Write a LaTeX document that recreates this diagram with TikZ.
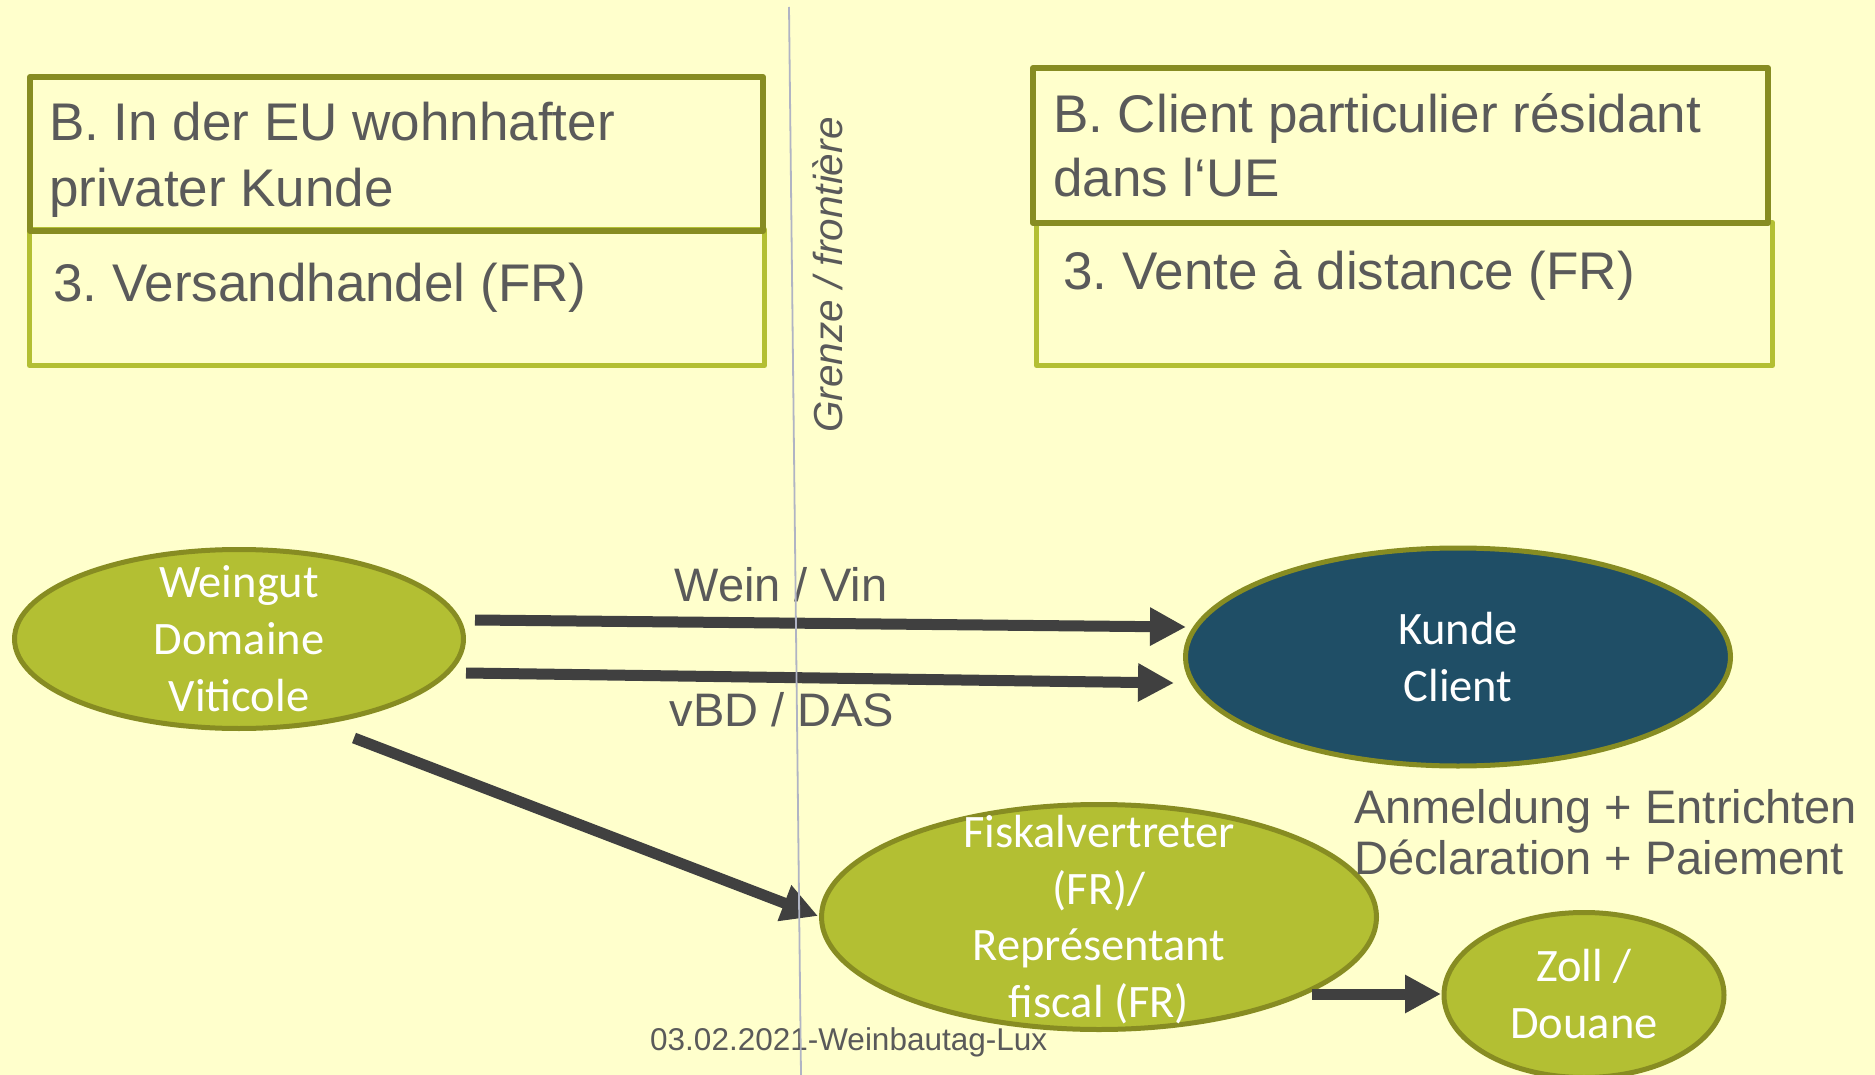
\documentclass[tikz,border=0pt]{standalone}
\usepackage{fontspec}
\setmainfont{Liberation Sans}
\newfontfamily\calfont{Carlito}
\usetikzlibrary{shapes.geometric,arrows.meta,calc}
\definecolor{bgc}{HTML}{FFFFCC}
\definecolor{olivec}{HTML}{878C22}
\definecolor{limec}{HTML}{B3BF33}
\definecolor{tealc}{HTML}{1F4E66}
\definecolor{arrc}{HTML}{404040}
\definecolor{txtc}{HTML}{5A5A5A}
\definecolor{glinec}{HTML}{B0B4C4}
\frenchspacing
\begin{document}
\begin{tikzpicture}[x=1pt,y=-1pt,
  boxtxt/.style={anchor=base west,inner sep=0pt,font=\fontsize{53}{60}\selectfont,text=txtc},
  lbl/.style={inner sep=0pt,font=\fontsize{47}{52}\selectfont,text=txtc},
  elltxt/.style={anchor=base,inner sep=0pt,font=\calfont\fontsize{46.5}{57}\selectfont,text=white},
  ell/.style={ellipse,draw=olivec,line width=5pt,inner sep=0pt,fill=limec},
  headbox/.style={rectangle,draw=olivec,line width=6pt,inner sep=0pt,line join=round},
  lowbox/.style={rectangle,draw=limec,line width=5pt,inner sep=0pt,line join=round},
  arr/.style={draw=arrc,line width=11pt,-{Triangle[length=36pt,width=36pt]}},
]
\useasboundingbox (0,0) rectangle (1875,1075);
\fill[bgc] (0,0) rectangle (1875,1075);

% boxes
\node[lowbox,minimum width=735pt,minimum height=136pt] (lb) at (397,297.5) {};
\node[headbox,minimum width=733pt,minimum height=154pt] (lh) at (396.5,154) {};
\node[lowbox,minimum width=736pt,minimum height=143pt] (rb) at (1404.5,294) {};
\node[headbox,minimum width=735pt,minimum height=155pt] (rh) at (1400.5,145.5) {};

\node[boxtxt] (lh1) at (49,141) {B. In der EU wohnhafter};
\node[boxtxt] (lh2) at (49,207) {privater Kunde};
\node[boxtxt] (lb1) at (53,302) {3. Versandhandel (FR)};
\node[boxtxt] (rh1) at (1053,133) {B. Client particulier résidant};
\node[boxtxt] (rh2) at (1053,197) {dans l‘UE};
\node[boxtxt] (rb1) at (1063,290) {3. Vente à distance (FR)};

% border label
\node[rotate=90,anchor=base,inner sep=0pt,text=txtc,font=\itshape\fontsize{40.5}{46}\selectfont] (gr) at (842,275) {Grenze / frontière};

% ellipses
\node[ell,minimum width=449pt,minimum height=179pt] (w) at (239,639) {};
\node[ell,fill=tealc,minimum width=545pt,minimum height=218pt] (k) at (1458,657) {};
\node[ell,minimum width=555pt,minimum height=225pt] (f) at (1099,917) {};
\node[ell,minimum width=280pt,minimum height=165pt] (z) at (1584,995) {};

\node[elltxt] (w1) at (239,597) {Weingut};
\node[elltxt] (w2) at (239,654) {Domaine};
\node[elltxt] (w3) at (239,711) {Viticole};
\node[elltxt] (k1) at (1458,644) {Kunde};
\node[elltxt] (k2) at (1458,701) {Client};
\node[elltxt] (f1) at (1099,847) {Fiskalvertreter};
\node[elltxt] (f2) at (1099,904) {(FR)/};
\node[elltxt] (f3) at (1099,960) {Représentant};
\node[elltxt] (f4) at (1099,1017) {fiscal (FR)};
\node[elltxt] (z1) at (1584,981) {Zoll /};
\node[elltxt] (z2) at (1584,1038) {Douane};

% arrows
\draw[arr] ([shift={(236,-19)}]w.center) -- ([shift={(-272,-30)}]k.center);
\draw[arr] ([shift={(227,34)}]w.center) -- ([shift={(-284,26)}]k.center);
\draw[arr] ([shift={(115,99)}]w.center) -- ([shift={(-281,-1)}]f.center);
\draw[arr] ([shift={(213,77)}]f.center) -- ([shift={(-143,-1)}]z.center);

% labels
\node[lbl,anchor=base] (l1) at (781,601) {Wein / Vin};
\node[lbl,anchor=base] (l2) at (782,726) {vBD / DAS};
\node[lbl,anchor=base west] (l3) at (1354,823) {Anmeldung + Entrichten};
\node[lbl,anchor=base west] (l4) at (1354,874) {Déclaration + Paiement};

% footer
\node[anchor=base west,inner sep=0pt,text=txtc,font=\fontsize{31.5}{36}\selectfont] (ft) at (650,1050) {03.02.2021-Weinbautag-Lux};

% border line
\draw[glinec,line width=1.8pt] (789,7) -- (801,1075);
\end{tikzpicture}
\end{document}
